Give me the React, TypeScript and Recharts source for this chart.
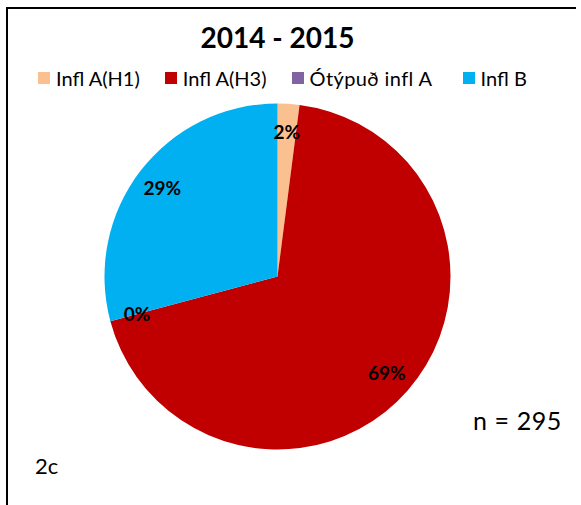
import React from 'react';
import { PieChart, Pie, Cell } from 'recharts';

const categories = ['Infl A(H1)', 'Infl A(H3)', 'Ótýpuð infl A', 'Infl B'];
const counts = [6, 203, 0, 86];
const colors = ['#FAC090', '#C00000', '#8064A2', '#00B0F0'];
const title = '2014 - 2015';
const nLabel = 'n = 295';
const panelLabel = '2c';

const data = categories.map((name, i) => ({ name, value: counts[i] }));

const RAD = Math.PI / 180;
const FONT = 'Lato, "Open Sans", sans-serif';

const renderLabel = (props: any) => {
  const { cx, cy, midAngle, outerRadius, percent } = props;
  const r = outerRadius * 0.84;
  const x = cx + r * Math.cos(-midAngle * RAD);
  const y = cy + r * Math.sin(-midAngle * RAD);
  return (
    <text
      x={x}
      y={y}
      textAnchor="middle"
      dominantBaseline="central"
      fontFamily={FONT}
      fontWeight="bold"
      fontSize={19}
      fill="#000"
    >
      {Math.round(percent * 100)}%
    </text>
  );
};

export default function App() {
  return (
    <div
      style={{
        position: 'relative',
        width: 564,
        height: 488,
        fontFamily: FONT,
        background: '#fff',
      }}
    >
      <div
        style={{
          position: 'fixed',
          left: 6,
          top: 7,
          width: 570,
          height: 505,
          borderLeft: '2px solid #000',
          borderTop: '2px solid #000',
          boxSizing: 'border-box',
          pointerEvents: 'none',
          zIndex: 5,
        }}
      />
      <div
        style={{
          position: 'absolute',
          left: 0,
          top: 15,
          width: 539,
          textAlign: 'center',
          fontSize: 28,
          fontWeight: 'bold',
          lineHeight: 1,
          color: '#000',
        }}
      >
        {title}
      </div>
      <div
        style={{
          position: 'absolute',
          left: 30,
          top: 59.5,
          display: 'flex',
          alignItems: 'center',
          fontSize: 20,
          lineHeight: 1,
          color: '#000',
          whiteSpace: 'nowrap',
        }}
      >
        {categories.map((c, i) => (
          <div key={c} style={{ display: 'flex', alignItems: 'center', marginRight: i === 2 ? 30 : 25 }}>
            <span style={{ width: 12, height: 12, background: colors[i], display: 'inline-block', marginRight: 6 }} />
            <span style={{ letterSpacing: i === 2 ? 0.4 : 0 }}>{c}</span>
          </div>
        ))}
      </div>
      <div style={{ position: 'absolute', top: 0, left: 0 }}>
        <PieChart width={560} height={480} margin={{ top: 0, right: 0, bottom: 0, left: 0 }}>
          <Pie
            data={data}
            dataKey="value"
            nameKey="name"
            cx={269.5}
            cy={268.5}
            outerRadius={173}
            startAngle={90}
            endAngle={-270}
            stroke="none"
            label={renderLabel}
            labelLine={false}
            isAnimationActive={false}
          >
            {data.map((d, i) => (
              <Cell key={d.name} fill={colors[i]} />
            ))}
          </Pie>
        </PieChart>
      </div>
      <div style={{ position: 'absolute', left: 465, top: 400, fontSize: 25, lineHeight: 1, color: '#000', whiteSpace: 'nowrap', letterSpacing: 0.6 }}>
        {nLabel}
      </div>
      <div style={{ position: 'absolute', left: 27, top: 447, fontSize: 22, lineHeight: 1, color: '#000' }}>
        {panelLabel}
      </div>
    </div>
  );
}
